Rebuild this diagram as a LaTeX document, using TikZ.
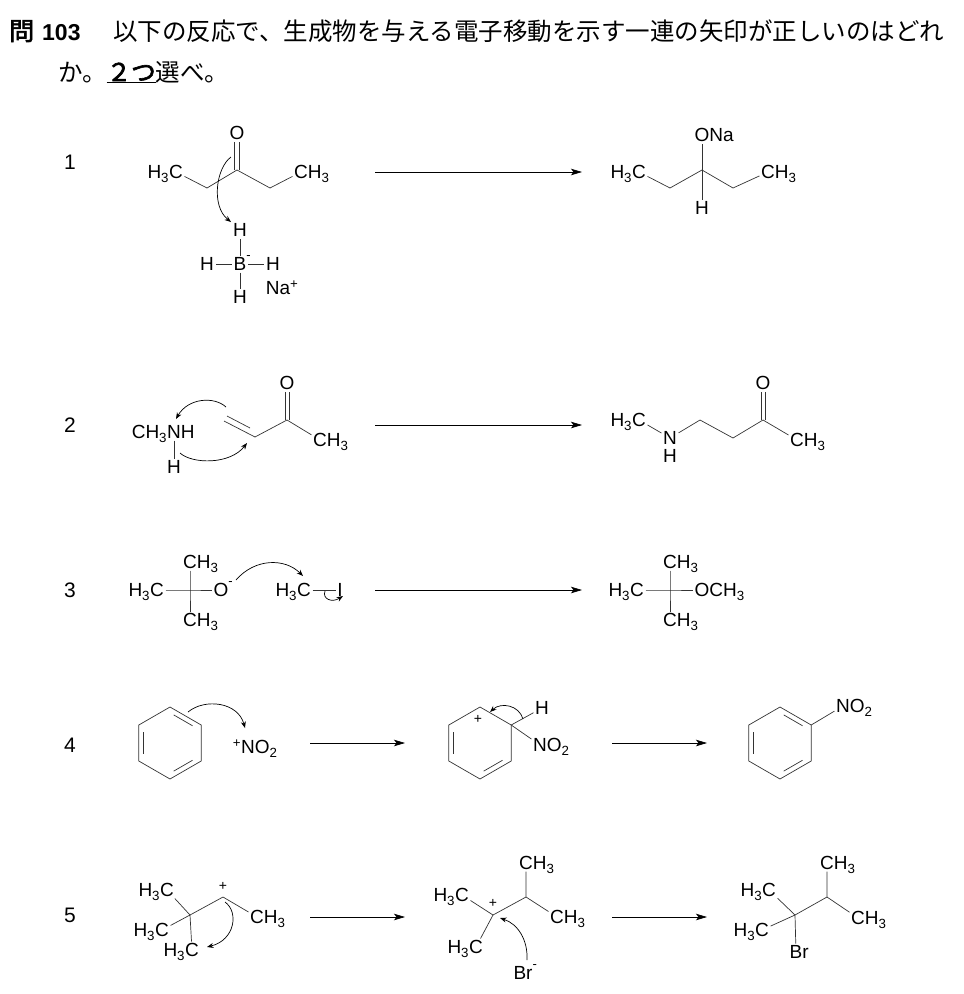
\documentclass[tikz,border=0pt]{standalone}
\usepackage{fontspec}
\setmainfont{Liberation Sans}
\newfontfamily\jp{Noto Sans CJK JP}
\newfontfamily\jpb{Noto Sans CJK JP}[FakeBold=2.5]
\usetikzlibrary{arrows.meta,calc}

\newcommand\chem{\fontsize{19}{21}\selectfont}
\newcommand\HtC{\llap{H\textsubscript{3}}C}
\newcommand\CHt{C\rlap{H\textsubscript{3}}}
\newcommand\anion{\rlap{\raisebox{11pt}{\fontsize{13}{13}\selectfont -}}}

\tikzset{
	atom/.style={inner sep=1.5pt, font=\chem, text height=13.6pt, text depth=0pt},
	chg/.style={inner sep=0pt, font=\fontsize{14}{14}\selectfont},
	num/.style={font=\fontsize{21}{23}\selectfont},
	bond/.style={line width=0.7pt, black!80},
	rxn/.style={line width=0.7pt, -{Stealth[length=11pt,width=6.5pt,inset=2.5pt]}},
	push/.style={line width=0.7pt, -{Stealth[length=6.5pt,width=5pt]}},
}

\begin{document}
\begin{tikzpicture}[x=1pt, y=-1pt]
	\useasboundingbox (0,0) rectangle (964,994);

	% question
	\node[anchor=base west, inner sep=0] (hd0) at (9,40) {{\jpb\fontsize{25}{25}\selectfont 問}\hspace{8pt}{\fontsize{23}{23}\selectfont\bfseries 103}};
	\node[anchor=base west, inner sep=0, font={\jp\fontsize{24.5}{25}\selectfont}] (hd1) at (113,40) {以下の反応で、生成物を与える電子移動を示す一連の矢印が正しいのはどれ};
	\node[anchor=base west, inner sep=0, font={\jp\fontsize{24.5}{25}\selectfont}] (hd2) at (58,81) {か。\underline{\jpb ２つ}選べ。};

	% 1
	\node[num] (row1) at (70,162) {1};
	\node[atom] (o1) at (237,133) {O};
	\coordinate (k1) at (237,170);
	\coordinate (k1l) at (207,188);
	\coordinate (k1r) at (270,188);
	\node[atom] (m1) at (176,172) {\HtC};
	\node[atom] (m2) at (301,172) {\CHt};
	\draw[bond] (m1) -- (k1l) -- (k1) -- (k1r) -- (m2);
	\draw[bond] ([xshift=-2.5pt]k1) -- ([xshift=-2.5pt]o1.south);
	\draw[bond] ([xshift=2.5pt]k1) -- ([xshift=2.5pt]o1.south);

	\node[atom] (hb1) at (240,230) {H};
	\node[atom] (b1) at (240,264) {B\anion};
	\node[atom] (hb2) at (207,264) {H};
	\node[atom] (hb3) at (273,264) {H};
	\node[atom] (hb4) at (240,297) {H};
	\node[atom] (na1) at (278,288) {Na\rlap{\textsuperscript{+}}};
	\draw[bond] (b1) -- (hb1) (b1) -- (hb2) (b1) -- (hb3) (b1) -- (hb4);

	\coordinate (p1a) at (231,157);
	\coordinate (p1b) at (231,222);
	\draw[push] (p1a) .. controls (216,168) and (211,206) .. (p1b);

	\coordinate (r1a) at (375,172);
	\coordinate (r1b) at (582,172);
	\draw[rxn] (r1a) -- (r1b);

	\node[atom] (o2) at (702,135) {O\rlap{Na}};
	\coordinate (k2) at (702,170);
	\coordinate (k2l) at (670,188);
	\coordinate (k2r) at (733,188);
	\node[atom] (m3) at (639,172) {\HtC};
	\node[atom] (m4) at (768,172) {\CHt};
	\node[atom] (h2) at (702,208) {H};
	\draw[bond] (m3) -- (k2l) -- (k2) -- (k2r) -- (m4);
	\draw[bond] (k2) -- (o2) (k2) -- (h2);

	% 2
	\node[num] (row2) at (70,425) {2};
	\node[atom] (nh1) at (174,432) {\llap{CH\textsubscript{3}}N\rlap{H}};
	\node[atom] (h3) at (174,467) {H};
	\draw[bond] (nh1) -- (h3);
	\coordinate (v1) at (224,421);
	\coordinate (v2) at (255,437);
	\coordinate (v3) at (287,420);
	\coordinate (v1i) at (227,416);
	\coordinate (v2i) at (250,428);
	\node[atom] (o3) at (287,383) {O};
	\node[atom] (m5) at (320,440) {\CHt};
	\draw[bond] (v1) -- (v2) -- (v3) -- (m5);
	\draw[bond] (v1i) -- (v2i);
	\draw[bond] ([xshift=-2pt]v3) -- ([xshift=-2pt]o3.south);
	\draw[bond] ([xshift=2pt]v3) -- ([xshift=2pt]o3.south);

	\coordinate (p2a) at (226,407);
	\coordinate (p2b) at (176,419);
	\draw[push] (p2a) .. controls (214,396) and (188,398) .. (p2b);
	\coordinate (p2c) at (180,453);
	\coordinate (p2d) at (247,443);
	\draw[push] (p2c) .. controls (192,464) and (230,465) .. (p2d);

	\coordinate (r2a) at (375,425);
	\coordinate (r2b) at (582,425);
	\draw[rxn] (r2a) -- (r2b);

	\node[atom] (m6) at (639,420) {\HtC};
	\node[atom] (nh2) at (670,438) {N};
	\node[atom] (h4) at (670,456) {H};
	\coordinate (w1) at (700,420);
	\coordinate (w2) at (733,438);
	\coordinate (w3) at (763,420);
	\node[atom] (o4) at (763,383) {O};
	\node[atom] (m7) at (797,440) {\CHt};
	\draw[bond] (m6) -- (nh2) -- (w1) -- (w2) -- (w3) -- (m7);
	\draw[bond] ([xshift=-2pt]w3) -- ([xshift=-2pt]o4.south);
	\draw[bond] ([xshift=2pt]w3) -- ([xshift=2pt]o4.south);

	% 3
	\node[num] (row3) at (70,590) {3};
	\coordinate (t1) at (190,590);
	\node[atom] (m8) at (157,590) {\HtC};
	\node[atom] (m9) at (190,562) {\CHt};
	\node[atom] (m10) at (190,620) {\CHt};
	\node[atom] (o5) at (221,590) {O\anion};
	\draw[bond] (m8) -- (t1) -- (o5) (m9) -- (t1) -- (m10);
	\node[atom] (m11) at (304,590) {\HtC};
	\node[atom] (i1) at (340,590) {I};
	\draw[bond] (m11) -- (i1);

	\coordinate (p3a) at (236,580);
	\coordinate (p3b) at (303,576);
	\draw[push] (p3a) .. controls (255,558) and (285,558) .. (p3b);
	\coordinate (p3c) at (325,591);
	\coordinate (p3d) at (343,596);
	\draw[push] (p3c) .. controls (322,599) and (332,603) .. (p3d);

	\coordinate (r3a) at (375,590);
	\coordinate (r3b) at (582,590);
	\draw[rxn] (r3a) -- (r3b);

	\coordinate (t2) at (670,590);
	\node[atom] (m12) at (637,590) {\HtC};
	\node[atom] (m13) at (670,562) {\CHt};
	\node[atom] (m14) at (670,620) {\CHt};
	\node[atom] (o6) at (702,590) {O\rlap{CH\textsubscript{3}}};
	\draw[bond] (m12) -- (t2) -- (o6) (m13) -- (t2) -- (m14);

	% 4
	\node[num] (row4) at (70,745) {4};
	\foreach \r/\cx in {a/170, b/480, c/780}{
		\coordinate (\r0) at (\cx,743);
		\foreach \v/\dx/\dy in {1/0/-36, 2/31.2/-18, 3/31.2/18, 4/0/36, 5/-31.2/18, 6/-31.2/-18}
			\coordinate (\r\v) at (\cx+\dx,743+\dy);
		\draw[bond] (\r1) -- (\r2) -- (\r3) -- (\r4) -- (\r5) -- (\r6) -- cycle;
	}
	\foreach \r/\p/\q in {a/1/2, a/3/4, a/5/6, b/3/4, b/5/6, c/1/2, c/3/4, c/5/6}{
		\path ($(\r0)!.84!(\r\p)$) coordinate (ip) ($(\r0)!.84!(\r\q)$) coordinate (iq);
		\draw[bond] ($(ip)!.14!(iq)$) -- ($(iq)!.14!(ip)$);
	}
	\node[atom] (no1) at (248,747) {\llap{\textsuperscript{+}}N\rlap{O\textsubscript{2}}};
	\coordinate (p4a) at (188,712);
	\coordinate (p4b) at (245,728);
	\draw[push] (p4a) .. controls (205,698) and (238,702) .. (p4b);

	\coordinate (r4a) at (310,743);
	\coordinate (r4b) at (405,743);
	\draw[rxn] (r4a) -- (r4b);

	\node[chg] (pl1) at (478,719) {+};
	\node[atom] (h5) at (542,708) {H};
	\node[atom] (no2) at (540,745) {N\rlap{O\textsubscript{2}}};
	\draw[bond] (b2) -- (h5) (b2) -- (no2);
	\coordinate (p4c) at (523,719);
	\coordinate (p4d) at (490,712);
	\draw[push] (p4c) .. controls (519,705) and (501,702) .. (p4d);

	\coordinate (r5a) at (612,743);
	\coordinate (r5b) at (707,743);
	\draw[rxn] (r5a) -- (r5b);

	\node[atom] (no3) at (843,706) {N\rlap{O\textsubscript{2}}};
	\draw[bond] (c2) -- (no3);

	% 5
	\node[num] (row5) at (70,915) {5};
	\coordinate (q1) at (190,915);
	\coordinate (q2) at (223,897);
	\node[atom] (m15) at (167,890) {\HtC};
	\node[atom] (m16) at (162,930) {\HtC};
	\node[atom] (m17) at (192,950) {\HtC};
	\node[atom] (m18) at (257,917) {\CHt};
	\node[chg] (pl2) at (223,886) {+};
	\draw[bond] (m15) -- (q1) -- (m16) (q1) -- (m17) (q1) -- (q2) -- (m18);
	\coordinate (p5a) at (225,902);
	\coordinate (p5b) at (207,947);
	\draw[push] (p5a) .. controls (239,912) and (235,940) .. (p5b);

	\coordinate (r6a) at (310,917);
	\coordinate (r6b) at (405,917);
	\draw[rxn] (r6a) -- (r6b);

	\coordinate (q3) at (493,915);
	\coordinate (q4) at (526,897);
	\node[atom] (m19) at (462,895) {\HtC};
	\node[atom] (m20) at (476,947) {\HtC};
	\node[atom] (m21) at (526,863) {\CHt};
	\node[atom] (m22) at (557,917) {\CHt};
	\node[chg] (pl3) at (493,903) {+};
	\node[atom] (br1) at (523,973) {Br\anion};
	\draw[bond] (m19) -- (q3) -- (m20) (q3) -- (q4) -- (m22) (q4) -- (m21);
	\coordinate (p5c) at (527,960);
	\coordinate (p5d) at (500,918);
	\draw[push] (p5c) .. controls (528,940) and (518,924) .. (p5d);

	\coordinate (r7a) at (612,917);
	\coordinate (r7b) at (707,917);
	\draw[rxn] (r7a) -- (r7b);

	\coordinate (q5) at (795,915);
	\coordinate (q6) at (827,897);
	\node[atom] (m23) at (769,890) {\HtC};
	\node[atom] (m24) at (762,930) {\HtC};
	\node[atom] (br2) at (796,952) {B\rlap{r}};
	\node[atom] (m25) at (827,863) {\CHt};
	\node[atom] (m26) at (858,918) {\CHt};
	\draw[bond] (m23) -- (q5) -- (m24) (q5) -- (br2) (q5) -- (q6) -- (m26) (q6) -- (m25);
\end{tikzpicture}
\end{document}
